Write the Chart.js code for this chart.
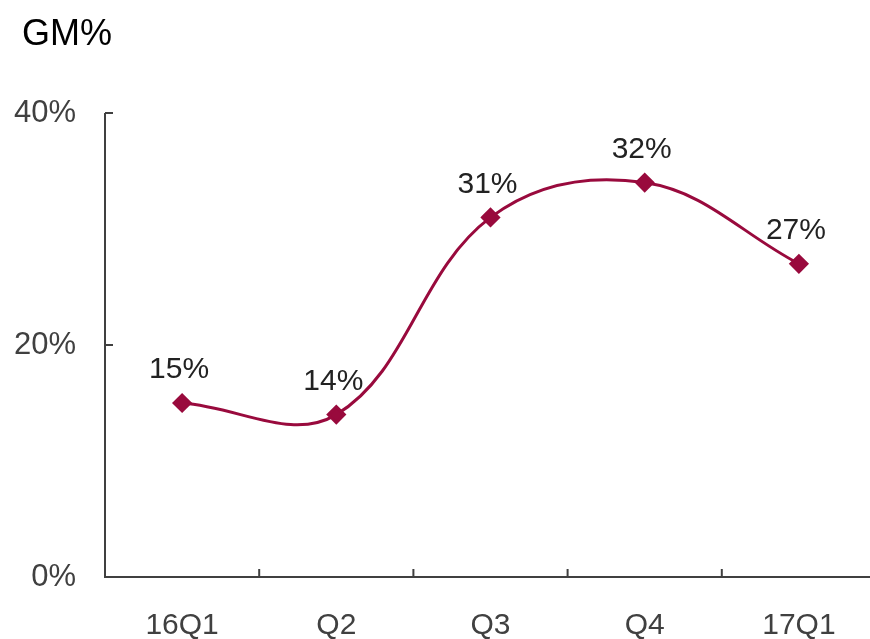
<!DOCTYPE html>
<html>
<head>
<meta charset="utf-8">
<script src="https://cdn.jsdelivr.net/npm/chart.js@4.4.0/dist/chart.umd.min.js"></script>
<style>
  html, body { margin: 0; padding: 0; background: #fff; overflow: hidden; }
  #wrap { width: 870px; height: 639px; overflow: hidden; }
  canvas { display: block; }
</style>
</head>
<body>
<div id="wrap"><canvas id="gmChart" width="876" height="639"></canvas></div>
<script>
// quarters and gross margin (%)
var quarters = ["16Q1", "Q2", "Q3", "Q4", "17Q1"];
var gm_values = [15, 14, 31, 34, 27];
var gm_labels = ["15%", "14%", "31%", "32%", "27%"];
var y_ticks = [0, 20, 40];
var chart_title = "GM%";

var lineColor = "#990a3d";
var axisColor = "#404040";
var fontFamily = "'Liberation Sans', Arial, sans-serif";

// title in the top left corner
var cornerTitle = {
    id: "cornerTitle",
    afterDraw: function (chart) {
        var ctx = chart.ctx;
        ctx.save();
        ctx.font = "36px " + fontFamily;
        ctx.fillStyle = "#000";
        ctx.textAlign = "left";
        ctx.textBaseline = "alphabetic";
        ctx.fillText(chart_title, 22, 45);
        ctx.restore();
    }
};

// axes with ticks pointing inside the plot, like the original
var innerAxes = {
    id: "innerAxes",
    afterDraw: function (chart) {
        var ctx = chart.ctx;
        var xs = chart.scales.x;
        var ys = chart.scales.y;
        var area = chart.chartArea;
        ctx.save();
        ctx.strokeStyle = axisColor;
        ctx.lineWidth = 2;
        ctx.beginPath();
        ctx.moveTo(area.left, ys.getPixelForValue(40));
        ctx.lineTo(area.left, area.bottom);
        ctx.lineTo(area.right, area.bottom);
        y_ticks.forEach(function (v) {
            var py = ys.getPixelForValue(v);
            ctx.moveTo(area.left, py);
            ctx.lineTo(area.left + 8, py);
        });
        // x ticks between categories
        var half = (xs.getPixelForValue(1) - xs.getPixelForValue(0)) / 2;
        for (var i = 0; i < quarters.length - 1; i++) {
            var px = xs.getPixelForValue(i) + half;
            ctx.moveTo(px, area.bottom);
            ctx.lineTo(px, area.bottom - 8);
        }
        ctx.stroke();
        ctx.restore();
    }
};

// value labels above the points
var pointLabels = {
    id: "pointLabels",
    afterDatasetsDraw: function (chart) {
        var ctx = chart.ctx;
        var meta = chart.getDatasetMeta(0);
        ctx.save();
        ctx.font = "30px " + fontFamily;
        ctx.fillStyle = "#222";
        ctx.textAlign = "center";
        ctx.textBaseline = "middle";
        meta.data.forEach(function (pt, i) {
            ctx.fillText(gm_labels[i], pt.x - 3, pt.y - 33);
        });
        ctx.restore();
    }
};

var ctx = document.getElementById("gmChart").getContext("2d");
var chart = new Chart(ctx, {
    type: "line",
    data: {
        labels: quarters,
        datasets: [
            {
                label: "GM%",
                data: gm_values,
                borderColor: lineColor,
                backgroundColor: lineColor,
                borderWidth: 3,
                tension: 0.38,
                fill: false,
                pointStyle: "rectRot",
                pointRadius: 8,
                pointHoverRadius: 8,
                pointBackgroundColor: lineColor,
                pointBorderColor: lineColor
            }
        ]
    },
    options: {
        responsive: false,
        animation: false,
        layout: { autoPadding: false, padding: { left: 0, right: 0, top: 113, bottom: 0 } },
        plugins: {
            legend: { display: false },
            tooltip: { enabled: false },
            title: { display: false }
        },
        scales: {
            x: {
                offset: true,
                grid: { display: false },
                border: { display: false },
                ticks: {
                    color: axisColor,
                    padding: 23,
                    font: { family: fontFamily, size: 30 }
                },
                afterFit: function (scale) {
                    scale.height = 62;
                    scale.paddingLeft = 0;
                    scale.paddingRight = 0;
                }
            },
            y: {
                min: 0,
                max: 40,
                grid: { display: false },
                border: { display: false },
                afterBuildTicks: function (scale) {
                    scale.ticks = y_ticks.map(function (v) { return { value: v }; });
                },
                ticks: {
                    color: axisColor,
                    padding: 21,
                    font: { family: fontFamily, size: 31 },
                    callback: function (v) { return v + "%"; }
                },
                afterFit: function (scale) { scale.width = 105; }
            }
        }
    },
    plugins: [innerAxes, pointLabels, cornerTitle]
});
</script>
</body>
</html>
